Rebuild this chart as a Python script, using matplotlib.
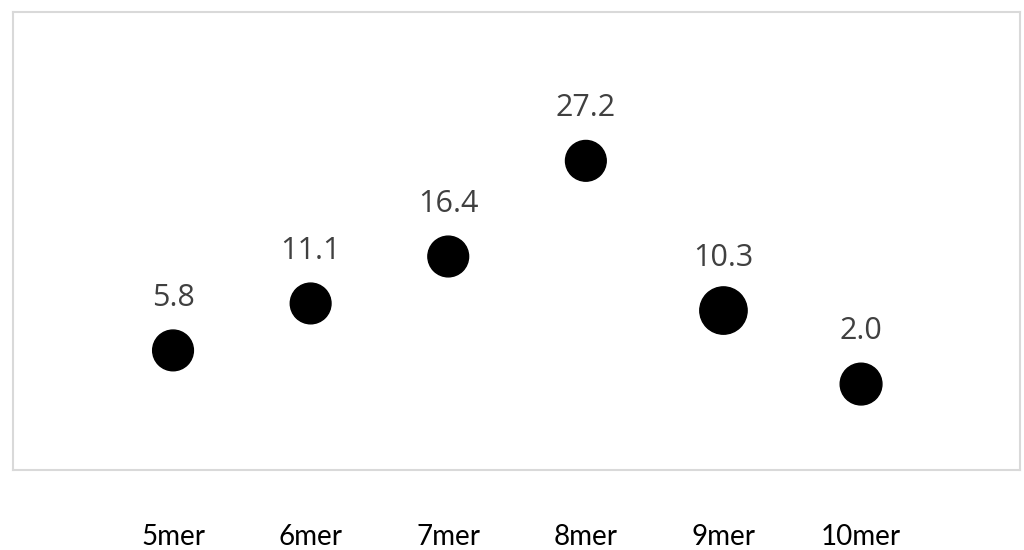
import matplotlib.pyplot as plt

categories = ['5mer', '6mer', '7mer', '8mer', '9mer', '10mer']
values = [5.8, 11.1, 16.4, 27.2, 10.3, 2.0]
bubble_size = [1.0, 1.0, 1.0, 1.0, 1.35, 1.05]

fig = plt.figure(figsize=(10.24, 5.5), dpi=100)
ax = fig.add_axes([13 / 1024, 80 / 550, 1007 / 1024, 458 / 550])

x = list(range(len(categories)))
sizes = [860 * s for s in bubble_size]
ax.scatter(x, values, s=sizes, color='black', zorder=3)

for xi, v in zip(x, values):
    ax.annotate(f'{v:.1f}', (xi, v), xytext=(0, 38), textcoords='offset points',
                ha='center', va='center', fontsize=22, color='#404040',
                family=['Open Sans', 'DejaVu Sans'])

ax.set_xlim(-1.163, 6.155)
ax.set_ylim(-7.7, 44)
ax.set_yticks([])
ax.set_xticks(x)
ax.set_xticklabels(categories, fontsize=20, family=['Lato', 'DejaVu Sans'])
ax.tick_params(axis='x', length=0, pad=39)

for sp in ax.spines.values():
    sp.set_color('#d9d9d9')
    sp.set_linewidth(1.5)

fig.savefig('out.png', dpi=100)
